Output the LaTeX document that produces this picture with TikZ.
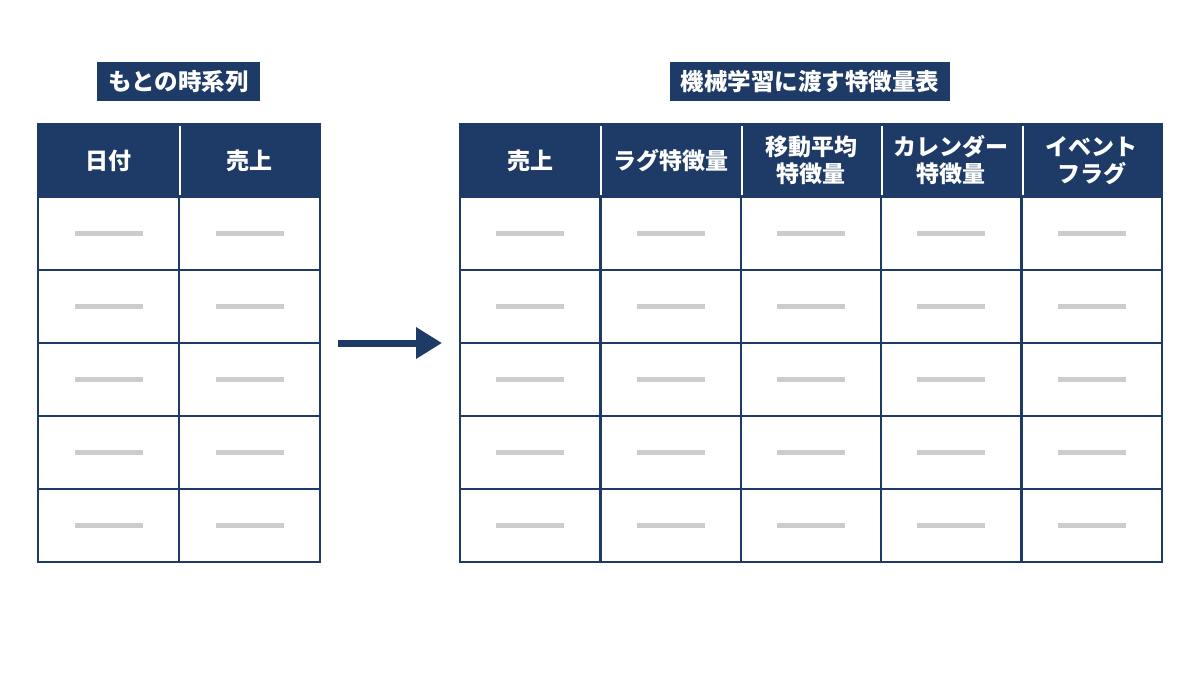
\documentclass[tikz,border=0pt]{standalone}
\usepackage{fontspec}
\newfontfamily\jpfont{Noto Sans CJK JP}
\usetikzlibrary{arrows.meta}
\definecolor{navy}{HTML}{1E3A66}
\definecolor{bargray}{HTML}{CCCCCC}
\newcommand\placeholder{\textcolor{bargray}{\rule{68pt}{5pt}}}
\tikzset{
  titlebox/.style={fill=navy,text=white,font=\jpfont\bfseries\fontsize{23.5}{27}\selectfont,
    minimum height=39pt,inner xsep=11pt,inner ysep=0pt},
  hdr/.style={fill=navy,draw=navy,line width=2pt,text=white,align=center,inner sep=0pt,
    font=\jpfont\bfseries\fontsize{23}{27}\selectfont,minimum height=73pt},
  cell/.style={draw=navy,line width=2.5pt,fill=white,inner sep=0pt,minimum height=73pt},
  divider/.style={draw=white,line width=2pt},
  flow/.style={draw=navy,line width=7pt,-{Triangle[length=26pt,width=30pt]}}
}
\begin{document}
\begin{tikzpicture}[x=1pt,y=-1pt]
  \path[fill=white] (0,0) rectangle (1200,675);
  \node[titlebox] (lt) at (178.5,81.5) {もとの時系列};
  \node[titlebox] (rt) at (810,81.5) {機械学習に渡す特徴量表};
  \begin{scope}[every node/.append style={minimum width=141pt}]
    \node[hdr] (lh1) at (108.5,160.5) {日付};
    \node[hdr] (lh2) at (249.5,160.5) {売上};
    \foreach \r in {1,...,5}
      \foreach \c/\x in {1/108.5,2/249.5}
        \node[cell] (l\r\c) at (\x,{160.5+73*\r}) {\placeholder};
  \end{scope}
  \begin{scope}[every node/.append style={minimum width=140.4pt}]
    \node[hdr] (rh1) at (530.2,160.5) {売上};
    \node[hdr] (rh2) at (670.6,160.5) {ラグ特徴量};
    \node[hdr] (rh3) at (811.0,160.5) {移動平均\\特徴量};
    \node[hdr] (rh4) at (951.4,160.5) {カレンダー\\特徴量};
    \node[hdr] (rh5) at (1091.8,160.5) {イベント\\フラグ};
    \foreach \r in {1,...,5}
      \foreach \c/\x in {1/530.2,2/670.6,3/811.0,4/951.4,5/1091.8}
        \node[cell] (r\r\c) at (\x,{160.5+73*\r}) {\placeholder};
  \end{scope}
  \draw[divider] ([yshift=-3pt]lh1.north east) -- ([yshift=3pt]lh1.south east);
  \foreach \c in {1,...,4}
    \draw[divider] ([yshift=-3pt]rh\c.north east) -- ([yshift=3pt]rh\c.south east);
  \coordinate (lmid) at (320,343);
  \coordinate (rmid) at (460,343);
  \draw[flow,shorten <=18pt,shorten >=18pt] (lmid) -- (rmid);
\end{tikzpicture}
\end{document}
